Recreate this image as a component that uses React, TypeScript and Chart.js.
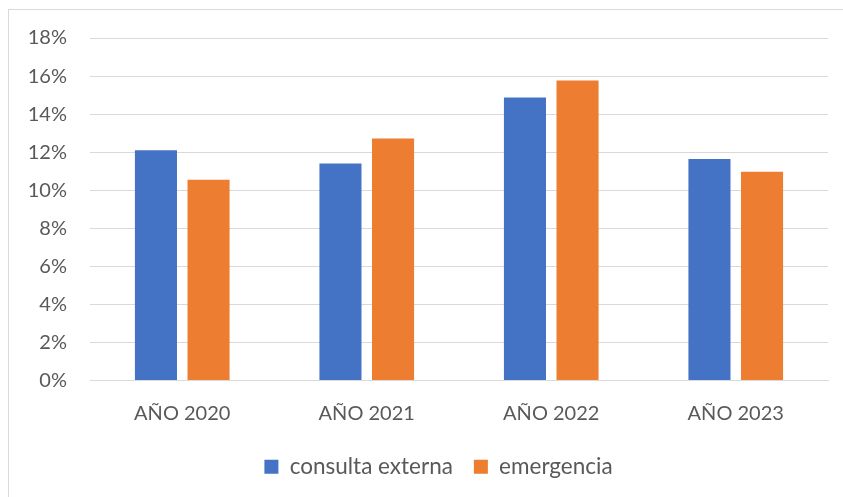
import React, { useEffect, useRef } from "react";
import { Chart, registerables } from "chart.js";

Chart.register(...registerables);

const categories = ["AÑO 2020", "AÑO 2021", "AÑO 2022", "AÑO 2023"];
const consultaExterna = [12.1, 11.4, 14.87, 11.64];
const emergencia = [10.55, 12.72, 15.76, 10.97];
const seriesNames = ["consulta externa", "emergencia"];

const FONT = "Lato, 'Noto Sans', sans-serif";
const TEXT = "#595959";
const GRID = "#D9D9D9";

// Excel centres its legend on the whole chart object, not on the plot area
const legendShift = {
  id: "legendShift",
  afterLayout(chart: any) {
    const lg = chart.legend;
    if (lg) {
      lg.left += 20;
      lg.right += 20;
    }
  },
};

export default function App() {
  const ref = useRef<HTMLCanvasElement | null>(null);

  useEffect(() => {
    document.body.style.margin = "0";
    if (!ref.current) return;
    const chart = new Chart(ref.current, {
      type: "bar",
      data: {
        labels: categories,
        datasets: [
          {
            label: seriesNames[0],
            data: consultaExterna,
            backgroundColor: "#4472C4",
            barPercentage: 0.8,
            categoryPercentage: 0.57,
          },
          {
            label: seriesNames[1],
            data: emergencia,
            backgroundColor: "#ED7D31",
            barPercentage: 0.8,
            categoryPercentage: 0.57,
          },
        ],
      },
      plugins: [legendShift],
      options: {
        animation: false,
        responsive: false,
        maintainAspectRatio: false,
        layout: { padding: { top: 28, left: 0, right: 41, bottom: 0 } },
        plugins: {
          tooltip: { enabled: false },
          legend: {
            position: "bottom",
            labels: {
              boxWidth: 14,
              boxHeight: 14,
              padding: 21,
              color: TEXT,
              font: { family: FONT, size: 22.5 },
            },
          },
        },
        scales: {
          x: {
            grid: { display: false, drawTicks: false },
            border: { display: true, color: GRID, width: 1 },
            ticks: {
              color: TEXT,
              font: { family: FONT, size: 20 },
              padding: 21,
              maxRotation: 0,
            },
            afterFit: (s: any) => {
              s.height = 54;
            },
          },
          y: {
            min: 0,
            max: 18,
            grid: {
              color: GRID,
              lineWidth: 1,
              drawTicks: true,
              tickLength: 23,
              tickColor: "rgba(0,0,0,0)",
            },
            border: { display: false },
            ticks: {
              stepSize: 2,
              color: TEXT,
              font: { family: FONT, size: 20 },
              padding: 0,
              callback: (v: any) => `${v}%`,
            },
            afterFit: (s: any) => {
              s.width = 81;
            },
          },
        },
      },
    });
    return () => chart.destroy();
  }, []);

  return (
    <div style={{ position: "relative", width: 843, height: 497, overflow: "hidden", background: "#fff" }}>
      <div
        style={{
          position: "absolute",
          left: 8,
          top: 9,
          width: 900,
          height: 600,
          border: "1px solid #D9D9D9",
          boxSizing: "border-box",
        }}
      />
      <canvas
        ref={ref}
        width={860}
        height={478}
        style={{ position: "absolute", left: 9, top: 10, width: 860, height: 478 }}
      />
    </div>
  );
}
